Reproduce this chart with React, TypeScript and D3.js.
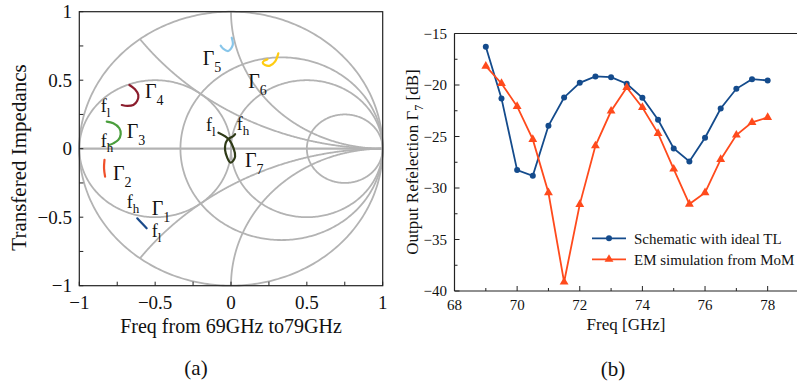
import React from "react";
import * as d3 from "d3";

// ---------- Data ----------
// (a) Smith chart grid values
const rCircleValues = [0, 0.5, 1, 3];
const xArcValues = [0.5, 1, -0.5, -1];
const gCircleValues = [1];
const smithMajorTicks = [-1, -0.5, 0, 0.5, 1];
const smithMinorTicks = [-0.75, -0.25, 0.25, 0.75];
const smithTickLabels = ["\u22121", "\u22120.5", "0", "0.5", "1"];

// reflection traces (Re, Im)
const gamma1: [number, number][] = [[-0.618, -0.508], [-0.587, -0.545], [-0.556, -0.581]];
const gamma2: [number, number][] = [[-0.834, -0.082], [-0.837, -0.143], [-0.830, -0.204]];
const gamma3: [number, number][] = [[-0.819, 0.197], [-0.776, 0.185], [-0.736, 0.149], [-0.727, 0.107], [-0.743, 0.064], [-0.776, 0.039], [-0.802, 0.027]];
const gamma4: [number, number][] = [[-0.670, 0.465], [-0.633, 0.434], [-0.611, 0.392], [-0.618, 0.350], [-0.644, 0.319], [-0.683, 0.312], [-0.720, 0.319]];
const gamma5: [number, number][] = [[0.005, 0.810], [0.0115, 0.757], [-0.0175, 0.713], [-0.050, 0.728], [-0.068, 0.752]];
const gamma6: [number, number][] = [[0.312, 0.696], [0.290, 0.635], [0.257, 0.606], [0.224, 0.611], [0.209, 0.628], [0.218, 0.642], [0.240, 0.652]];
const gamma7: [number, number][] = [[-0.083, 0.117], [-0.011, 0.064], [0.027, -0.058], [-0.002, -0.102], [-0.039, -0.010], [-0.024, 0.064], [0.016, 0.093], [0.027, 0.107]];
const gammaTraces = [gamma1, gamma2, gamma3, gamma4, gamma5, gamma6, gamma7];
const gammaColors = ["#1a4a8a", "#f0502a", "#4a9e3c", "#8b1c2c", "#88c6ea", "#ffcc11", "#2e3a16"];

// Label anchors (data coordinates)
const gammaLabelNames = ["1", "2", "3", "4", "5", "6", "7"];
const gammaLabelRe = [-0.523, -0.778, -0.688, -0.567, -0.187, 0.114, 0.092];
const gammaLabelIm = [-0.484, -0.228, 0.078, 0.370, 0.611, 0.441, -0.131];
const fLabelSubs = ["l", "h", "h", "l", "l", "h"];
const fLabelRe = [-0.859, -0.859, -0.688, -0.523, -0.165, 0.038];
const fLabelIm = [0.268, 0.012, -0.433, -0.642, 0.129, 0.136];

// (b) output reflection
const freq = [69, 69.5, 70, 70.5, 71, 71.5, 72, 72.5, 73, 73.5, 74, 74.5, 75, 75.5, 76, 76.5, 77, 77.5, 78];
const schematic = [-16.29, -21.3, -28.26, -28.81, -23.96, -21.21, -19.79, -19.17, -19.24, -19.88, -21.24, -23.38, -26.16, -27.42, -25.12, -22.28, -20.37, -19.43, -19.56];
const emSim = [-18.17, -19.85, -22.08, -25.28, -30.46, -39.13, -31.59, -25.9, -22.53, -20.24, -22.18, -24.7, -28.16, -31.56, -30.46, -27.23, -24.86, -23.63, -23.15];
const freqTicks = [68, 70, 72, 74, 76, 78, 80];
const freqMinor = [69, 71, 73, 75, 77, 79];
const dbTicks = [-40, -35, -30, -25, -20, -15];
const dbMinor = [-37.5, -32.5, -27.5, -22.5, -17.5];
const seriesNames = ["Schematic with ideal TL", "EM simulation from MoM"];
const seriesColors = ["#144b8c", "#ff4a1c"];

const FONT = "'Liberation Serif', 'Times New Roman', serif";
const GRID = "#b3b3b3";

export default function App() {
  // ---- left scales ----
  const lx = d3.scaleLinear().domain([-1, 1]).range([79.3, 382.7]);
  const ly = d3.scaleLinear().domain([-1, 1]).range([285.7, 11.7]);
  const lineL = d3.line<[number, number]>().x((d) => lx(d[0])).y((d) => ly(d[1]));
  const smoothL = d3
    .line<[number, number]>()
    .x((d) => lx(d[0]))
    .y((d) => ly(d[1]))
    .curve(d3.curveCatmullRom.alpha(0.5));

  const circlePts = (cx: number, cy: number, r: number) =>
    d3.range(0, 361).map((i) => {
      const t = (i / 360) * 2 * Math.PI;
      return [cx + r * Math.cos(t), cy + r * Math.sin(t)] as [number, number];
    });

  const rPaths = rCircleValues.map((r) => lineL(circlePts(r / (1 + r), 0, 1 / (1 + r))) as string);
  const gPaths = gCircleValues.map((g) => lineL(circlePts(-g / (1 + g), 0, 1 / (1 + g))) as string);
  const xPaths = xArcValues.map((x) => {
    const pts: [number, number][] = d3.range(0, 400).map((i) => {
      const t = i / 400;
      const rr = Math.pow(t / (1 - t), 1);
      const den = (rr + 1) * (rr + 1) + x * x;
      return [(rr * rr - 1 + x * x) / den, (2 * x) / den];
    });
    pts.push([1, 0]);
    return lineL(pts) as string;
  });

  // ---- right scales ----
  const rx = d3.scaleLinear().domain([68, 80]).range([454.5, 830.3]);
  const ry = d3.scaleLinear().domain([-40, -15]).range([291, 33.5]);
  const lineR = d3.line<number>().x((_, i) => rx(freq[i])).y((d) => ry(d));
  const tri = d3.symbol().type(d3.symbolTriangle).size(34)() as string;

  return (
    <svg
      width={797}
      height={389}
      style={{ position: "absolute", left: 0, top: 0, background: "#fff" }}
      fontFamily={FONT}
    >
      {/* ===== (a) Smith chart ===== */}
      <g fill="none" stroke={GRID} strokeWidth={1.8}>
        {rPaths.map((p, i) => (
          <path key={"r" + i} d={p} />
        ))}
        {gPaths.map((p, i) => (
          <path key={"g" + i} d={p} />
        ))}
        {xPaths.map((p, i) => (
          <path key={"x" + i} d={p} />
        ))}
        <line x1={lx(-1)} x2={lx(1)} y1={ly(0)} y2={ly(0)} strokeWidth={2.2} />
      </g>
      {gammaTraces.map((tr, i) => (
        <path key={"tr" + i} d={smoothL(tr) as string} fill="none" stroke={gammaColors[i]} strokeWidth={2.2} strokeLinecap="round" />
      ))}
      {gammaLabelNames.map((n, i) => (
        <text key={"gl" + i} x={lx(gammaLabelRe[i])} y={ly(gammaLabelIm[i])} fontSize={20} fill="#111">
          Γ<tspan dy={7} fontSize={14}>{n}</tspan>
        </text>
      ))}
      {fLabelSubs.map((s, i) => (
        <text key={"fl" + i} x={lx(fLabelRe[i])} y={ly(fLabelIm[i])} fontSize={18} fill="#111">
          f<tspan dy={5} fontSize={13}>{s}</tspan>
        </text>
      ))}
      {/* frame */}
      <rect x={lx(-1)} y={ly(1)} width={lx(1) - lx(-1)} height={ly(-1) - ly(1)} fill="none" stroke="#222" strokeWidth={1.2} />
      {/* ticks */}
      <g stroke="#222" strokeWidth={1}>
        {[...smithMajorTicks, ...smithMinorTicks].map((t, i) => (
          <g key={"lt" + i}>
            <line x1={lx(-1)} x2={lx(-1) + 4} y1={ly(t)} y2={ly(t)} />
            <line x1={lx(t)} x2={lx(t)} y1={ly(-1)} y2={ly(-1) - 4} />
          </g>
        ))}
      </g>
      {smithMajorTicks.map((t, i) => (
        <text key={"lyl" + i} x={72} y={ly(t)} dy="0.35em" textAnchor="end" fontSize={19} fill="#111">
          {smithTickLabels[i]}
        </text>
      ))}
      {smithMajorTicks.map((t, i) => (
        <text key={"lxl" + i} x={lx(t)} y={309} textAnchor="middle" fontSize={19} fill="#111">
          {smithTickLabels[i]}
        </text>
      ))}
      <text x={231} y={333} textAnchor="middle" fontSize={20} fill="#111">
        Freq from 69GHz to79GHz
      </text>
      <text transform="translate(26,157.5) rotate(-90)" textAnchor="middle" fontSize={21} fill="#111">
        Transfered Impedancs
      </text>
      <text x={196} y={375} textAnchor="middle" fontSize={21} fill="#111">
        (a)
      </text>

      {/* ===== (b) Output reflection ===== */}
      <g fill="none" stroke="#222" strokeWidth={1.2}>
        <line x1={rx(68)} x2={rx(68)} y1={ry(-15)} y2={ry(-40)} />
        <line x1={rx(68)} x2={797} y1={ry(-40)} y2={ry(-40)} />
        <line x1={rx(68)} x2={797} y1={ry(-15)} y2={ry(-15)} />
      </g>
      <g stroke="#222" strokeWidth={1}>
        {freqTicks.map((t, i) => (
          <line key={"fx" + i} x1={rx(t)} x2={rx(t)} y1={ry(-40)} y2={ry(-40) - 5} />
        ))}
        {freqMinor.map((t, i) => (
          <line key={"fm" + i} x1={rx(t)} x2={rx(t)} y1={ry(-40)} y2={ry(-40) - 3} />
        ))}
        {dbTicks.map((t, i) => (
          <line key={"dy" + i} x1={rx(68)} x2={rx(68) + 5} y1={ry(t)} y2={ry(t)} />
        ))}
        {dbMinor.map((t, i) => (
          <line key={"dm" + i} x1={rx(68)} x2={rx(68) + 3} y1={ry(t)} y2={ry(t)} />
        ))}
      </g>
      {freqTicks
        .filter((t) => t <= 78)
        .map((t, i) => (
          <text key={"fxl" + i} x={rx(t)} y={310} textAnchor="middle" fontSize={15} fill="#111">
            {t}
          </text>
        ))}
      {dbTicks.map((t, i) => (
        <text key={"dyl" + i} x={447} y={ry(t)} dy="0.35em" textAnchor="end" fontSize={15} fill="#111">
          {"\u2212" + Math.abs(t)}
        </text>
      ))}
      <text x={626} y={330} textAnchor="middle" fontSize={17} fill="#111">
        Freq [GHz]
      </text>
      <text transform="translate(418,162) rotate(-90)" textAnchor="middle" fontSize={17} fill="#111">
        Output Refelection Γ<tspan dy={5} fontSize={12}>7</tspan>
        <tspan dy={-5}> [dB]</tspan>
      </text>
      <text x={613} y={376} textAnchor="middle" fontSize={21} fill="#111">
        (b)
      </text>

      <path d={lineR(schematic) as string} fill="none" stroke={seriesColors[0]} strokeWidth={1.8} />
      {schematic.map((v, i) => (
        <circle key={"sc" + i} cx={rx(freq[i])} cy={ry(v)} r={3} fill={seriesColors[0]} />
      ))}
      <path d={lineR(emSim) as string} fill="none" stroke={seriesColors[1]} strokeWidth={1.8} />
      {emSim.map((v, i) => (
        <path key={"em" + i} d={tri} transform={`translate(${rx(freq[i])},${ry(v)})`} fill={seriesColors[1]} />
      ))}

      {/* legend */}
      {seriesNames.map((n, i) => {
        const y = 238.3 + i * 21;
        return (
          <g key={"lg" + i}>
            <line x1={592} x2={626} y1={y} y2={y} stroke={seriesColors[i]} strokeWidth={1.8} />
            {i === 0 ? (
              <circle cx={609} cy={y} r={3} fill={seriesColors[0]} />
            ) : (
              <path d={tri} transform={`translate(609,${y})`} fill={seriesColors[1]} />
            )}
            <text x={634} y={y} dy="0.35em" fontSize={15} fill="#111">
              {n}
            </text>
          </g>
        );
      })}
    </svg>
  );
}
